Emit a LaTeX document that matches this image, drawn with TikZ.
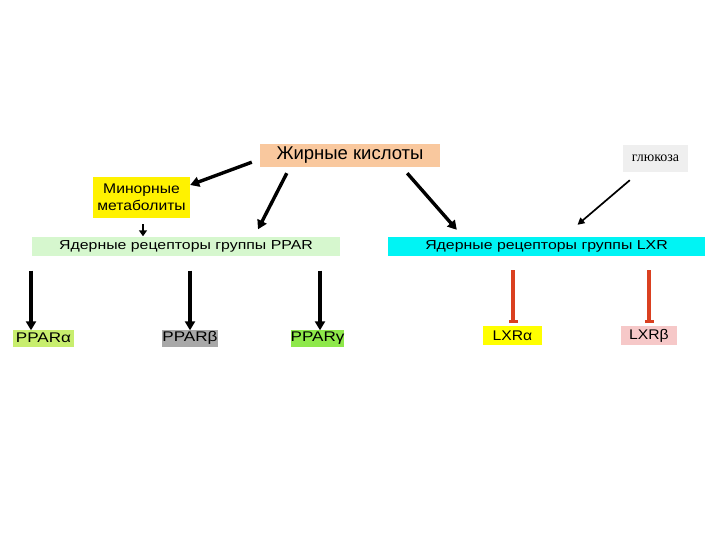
\documentclass[tikz,border=0pt]{standalone}
\usepackage{fontspec}
\setmainfont{Liberation Sans}
\newfontfamily\widesans{Liberation Sans}[FakeStretch=1.22]
\newfontfamily\midsans{Liberation Sans}[FakeStretch=1.12]
\newfontfamily\serifru{Liberation Serif}
\usetikzlibrary{arrows.meta,calc}
\definecolor{peach}{HTML}{F9C89E}
\definecolor{glgray}{HTML}{EFEFEF}
\definecolor{pparbg}{HTML}{D6F7CE}
\definecolor{lxrbg}{HTML}{00F4F4}
\definecolor{pagreen}{HTML}{C8EE6E}
\definecolor{pbgray}{HTML}{A8A8A8}
\definecolor{pggreen}{HTML}{8EE84A}
\definecolor{lxyellow}{HTML}{FFFF00}
\definecolor{lxpink}{HTML}{F6C8C8}
\definecolor{inhred}{HTML}{DA4020}
\begin{document}
\begin{tikzpicture}[x=1pt,y=-1pt,
  box/.style={inner sep=0pt,anchor=center,font=\widesans\fontsize{13}{15}\selectfont},
  arr/.style={line width=3.4pt,-{Triangle[length=9pt,width=10pt]}},
  thinarr/.style={line width=1.7pt,-{Triangle[length=7pt,width=7pt]}},
  inh/.style={line width=3.2pt,draw=inhred,-{Bar[width=9pt,line width=3pt]}}]
\useasboundingbox[fill=white] (0,0) rectangle (720,540);
\node[box,fill=peach,minimum width=180pt,minimum height=23pt,font=\fontsize{18.5}{20}\selectfont] (fa) at (350,155.5) {Жирные кислоты};
\node[box,fill=glgray,minimum width=65pt,minimum height=27pt,font=\serifru\fontsize{14}{15}\selectfont] (gl) at (655.5,158.5) {глюкоза};
\node[box,fill=yellow,minimum width=97pt,minimum height=41pt,align=center,font=\midsans\fontsize{14}{16.5}\selectfont] (mm) at (141.5,197.5) {Минорные\\метаболиты};
\node[box,fill=pparbg,minimum width=308pt,minimum height=19pt] (ppar) at (186,246) {Ядерные рецепторы группы PPAR};
\node[box,fill=lxrbg,minimum width=317pt,minimum height=19pt] (lxr) at (546.5,246.5) {Ядерные рецепторы группы LXR};
\node[box,fill=pagreen,minimum width=61pt,minimum height=17pt,font=\widesans\fontsize{14}{15}\selectfont] (pa) at (43.5,338) {PPARα};
\node[box,fill=pbgray,minimum width=56pt,minimum height=17pt,font=\widesans\fontsize{14}{15}\selectfont] (pb) at (190,338) {PPARβ};
\node[box,fill=pggreen,minimum width=51pt,minimum height=17pt,font=\widesans\fontsize{14}{15}\selectfont] (pg) at (317.5,338) {PPARγ};
\node[box,fill=lxyellow,minimum width=59pt,minimum height=19pt,font=\midsans\fontsize{14}{15}\selectfont] (la) at (512.5,335.5) {LXRα};
\node[box,fill=lxpink,minimum width=56pt,minimum height=19pt,font=\midsans\fontsize{14}{15}\selectfont] (lb) at (649,335.5) {LXRβ};
% connectors
\draw[arr] ($(fa.south west)+(-8,-5)$) -- ($(mm.east)+(0,-12.5)$);
\draw[arr] ($(fa.south west)+(27,6)$) -- ($(ppar.north)+(72,-7)$);
\draw[arr] ($(fa.south east)+(-33,6)$) -- ($(lxr.north west)+(69,-7)$);
\draw[thinarr] ($(gl.south west)+(7,8)$) -- ($(lxr.north)+(31,-12)$);
\draw[line width=1.8pt,-{Triangle[length=6pt,width=8pt]}] ($(mm.south)+(1.5,6)$) -- ($(mm.south |- ppar.north)+(1.5,0)$);
\draw[arr] ($(pa.north |- ppar.south)+(-12.5,15)$) -- ($(pa.north)+(-12.5,1)$);
\draw[arr] ($(pb.north |- ppar.south)+(0,15)$) -- ($(pb.north)+(0,1)$);
\draw[arr] ($(pg.north |- ppar.south)+(2.5,15)$) -- ($(pg.north)+(2.5,1)$);
\draw[inh] ($(la.north |- lxr.south)+(0.5,14)$) -- ($(la.north)+(0.5,-3)$);
\draw[inh] ($(lb.north |- lxr.south)+(0,14)$) -- ($(lb.north)+(0,-3)$);
\end{tikzpicture}
\end{document}
